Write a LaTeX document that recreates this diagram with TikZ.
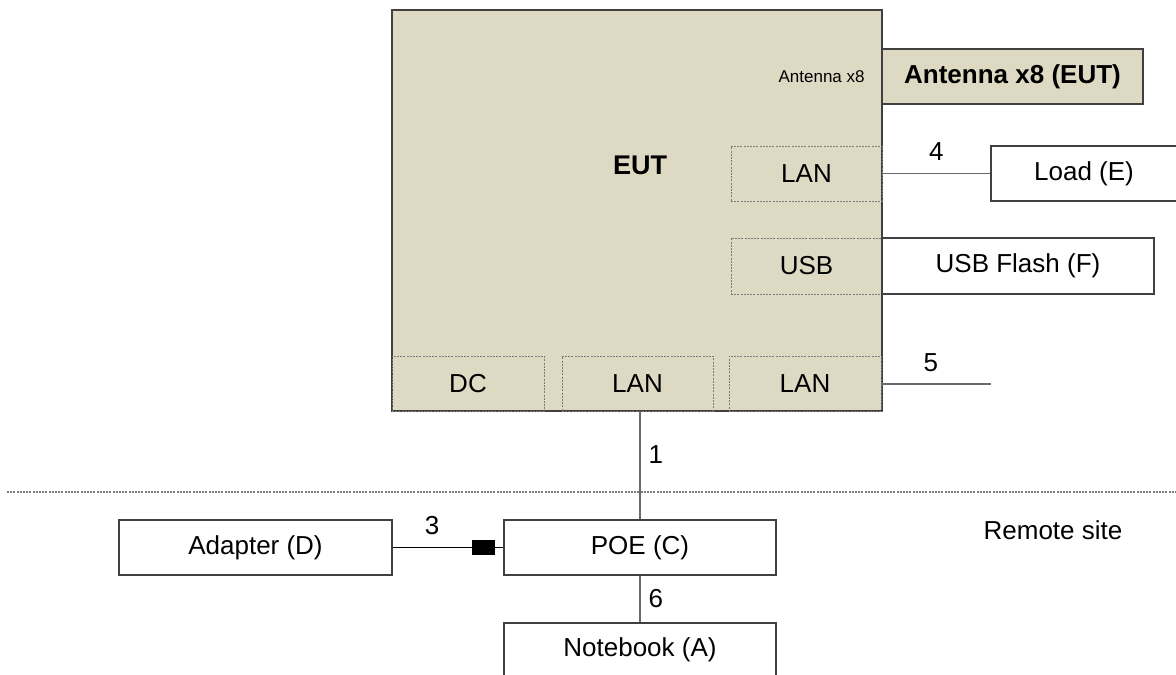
\documentclass[tikz,border=0pt]{standalone}
\usepackage{fontspec}
\setmainfont{Liberation Sans}
\usetikzlibrary{fit}
\definecolor{tanfill}{HTML}{DDD9C3}
\definecolor{edgegray}{HTML}{404040}
\definecolor{wiregray}{HTML}{6A6A6A}
\definecolor{dotgray}{HTML}{7A7A7A}
\tikzset{
  lbl/.style={font=\fontsize{13}{15}\selectfont, inner sep=0pt},
  whitebox/.style={draw=edgegray, line width=0.6pt, fill=white, inner sep=0pt},
  tanbox/.style={draw=edgegray, line width=0.7pt, fill=tanfill, inner sep=0pt},
  portbox/.style={draw=dotgray, line width=0.4pt, dash pattern=on 1pt off 0.6pt, inner sep=0pt},
  wire/.style={draw=wiregray, line width=0.6pt},
  plugbox/.style={fill=black, draw=black, minimum width=11pt, minimum height=7pt, inner sep=0pt},
}
\begin{document}
\begin{tikzpicture}[x=0.5pt, y=-0.5pt]
\useasboundingbox (0,0) rectangle (1176,674);
% site separator
\coordinate (sepL) at (7,492);
\coordinate (sepR) at (1176,492);
\draw[draw=dotgray, line width=0.6pt, dash pattern=on 1pt off 0.6pt] (sepL) -- (sepR);
% EUT
\node[tanbox, fit={(392,10)(882,411)}] (eut) {};
\node[lbl, font=\bfseries\fontsize{13.5}{15}\selectfont] (euttxt) at (640,165) {EUT};
\node[lbl, font=\fontsize{8.5}{10}\selectfont, anchor=east] (anttxt) at (865,77) {Antenna x8};
% ports
\node[portbox, fit={(731,146)(882,201)}] (lanr) {};
\node[lbl] (lanrtxt) at (lanr.center) {LAN};
\node[portbox, fit={(731,238)(882,294)}] (usb) {};
\node[lbl] (usbtxt) at (usb.center) {USB};
\node[portbox, fit={(392,356)(544,411)}] (dc) {};
\node[lbl] (dctxt) at (dc.center) {DC};
\node[portbox, fit={(562,356)(713,411)}] (lanm) {};
\node[lbl] (lanmtxt) at (lanm.center) {LAN};
\node[portbox, fit={(729,356)(881,411)}] (lanb) {};
\node[lbl] (lanbtxt) at (lanb.center) {LAN};
% antenna
\node[tanbox, line width=0.6pt, fit={(882,49)(1143,104)}] (ant) {};
\node[lbl, font=\bfseries\fontsize{13}{15}\selectfont] (anttitle) at (ant.center) {Antenna x8 (EUT)};
% right boxes
\node[whitebox, fit={(991,146)(1177,201)}] (load) {};
\node[lbl] (loadtxt) at (load.center) {Load (E)};
\node[whitebox, fit={(882,238)(1154,294)}] (flash) {};
\node[lbl] (flashtxt) at (flash.center) {USB Flash (F)};
% remote boxes
\node[whitebox, fit={(119,520)(392,575)}] (adapter) {};
\node[lbl] (adaptertxt) at (adapter.center) {Adapter (D)};
\node[whitebox, fit={(504,520)(776,575)}] (poe) {};
\node[lbl] (poetxt) at (poe.center) {POE (C)};
\node[whitebox, fit={(504,623)(776,678)}] (nb) {};
\node[lbl] (nbtxt) at (640,650) {Notebook (A)};
\node[plugbox] (plug) at (483,547.5) {};
% connectors
\draw[wire] (lanr.east) -- (load.west) node[lbl, midway, above=6pt] {4};
\coordinate (end5) at (991,384);
\draw[wire] (lanb.east |- end5) -- (end5) node[lbl, pos=0.45, above=6pt] {5};
\draw[wire] (poe.north |- lanm.south) -- (poe.north) node[lbl, pos=0.4, right=4pt] {1};
\draw[wire] (poe.south) -- (nb.north) node[lbl, midway, right=4pt] {6};
\draw[black, line width=0.6pt] (adapter.east) -- (plug.west) node[lbl, midway, above=6pt] {3};
\draw[black, line width=0.6pt] (plug.east) -- (poe.west);
\node[lbl] (remote) at (1053,530) {Remote site};
\end{tikzpicture}
\end{document}
